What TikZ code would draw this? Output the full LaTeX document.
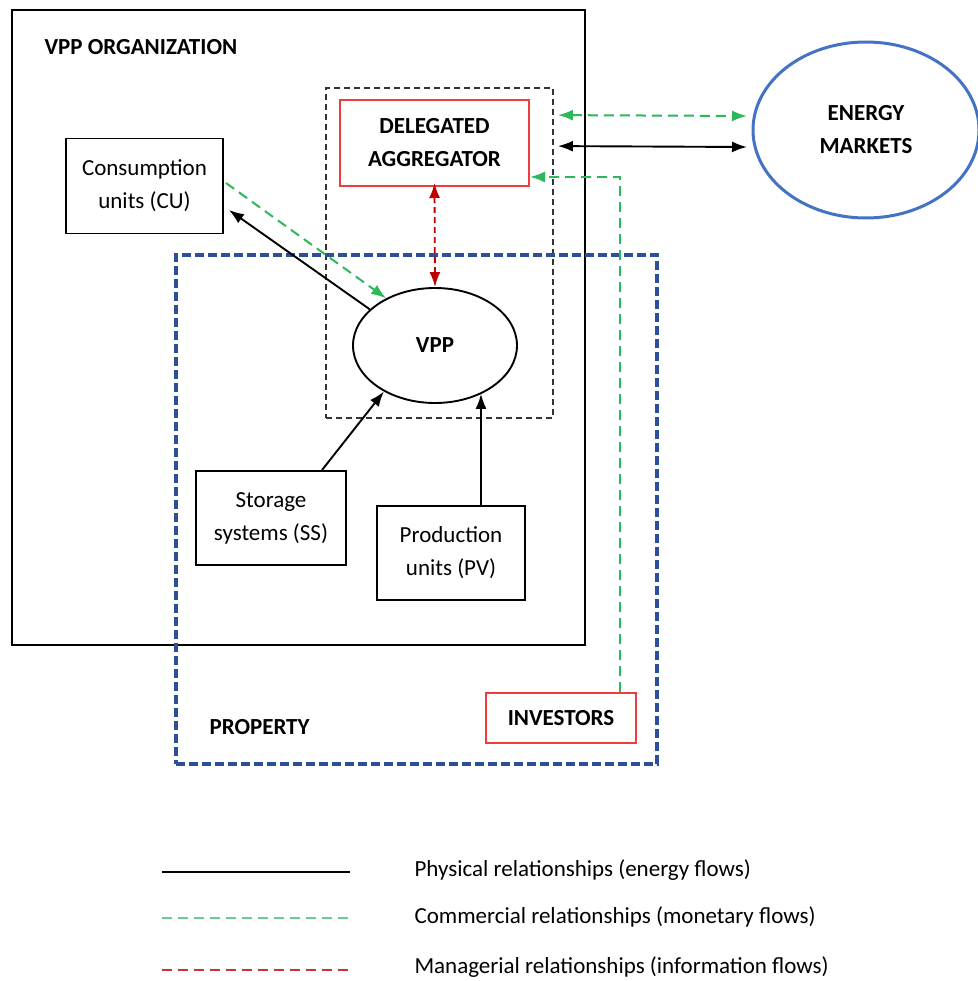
\documentclass[tikz,border=0pt]{standalone}
\usepackage{fontspec}
\setmainfont{Carlito}
\usetikzlibrary{arrows.meta,calc,shapes.geometric}
\definecolor{commgreen}{HTML}{2DB85A}
\definecolor{mgmtred}{HTML}{C00000}
\definecolor{boxred}{HTML}{F03C3C}
\definecolor{propblue}{HTML}{2E4E9A}
\definecolor{mktblue}{HTML}{4472C4}
\tikzset{
  every node/.style={font=\fontsize{23}{33}\selectfont, align=center},
  boldtext/.style={font=\fontsize{23}{33}\selectfont\bfseries},
  unit/.style={draw=black, line width=1.9pt, inner sep=0pt},
  redbox/.style={draw=boxred, line width=2pt, inner sep=0pt, boldtext},
  phys/.style={draw=black, line width=1.9pt},
  comm/.style={draw=commgreen, line width=2pt, dash pattern=on 10pt off 6pt},
  mgmt/.style={draw=mgmtred, line width=1.8pt, dash pattern=on 6pt off 4pt},
  tip/.style={-{Latex[length=15pt,width=11pt]}},
  dtip/.style={{Latex[length=15pt,width=11pt]}-{Latex[length=15pt,width=11pt]}},
}
\begin{document}
\begin{tikzpicture}[x=1pt,y=-1pt]
\useasboundingbox[fill=white] (0,0) rectangle (977,981);

% outer frames
\node[draw=black, line width=1.9pt, minimum width=573pt, minimum height=635pt] (org) at (298.5,327.5) {};
\node[anchor=west, boldtext] (orgl) at (41,47) {VPP ORGANIZATION};
\node[draw=black!80, line width=1.8pt, dash pattern=on 6pt off 4pt, minimum width=227pt, minimum height=330pt] (aggbox) at (439.5,253) {};
\node[draw=propblue, line width=3.3pt, dash pattern=on 9pt off 4pt, minimum width=481pt, minimum height=509pt] (prop) at (416.5,509.5) {};
\node[anchor=west, boldtext] (propl) at (206,727) {PROPERTY};

% actors
\node[redbox, minimum width=189pt, minimum height=86pt] (agg) at (434.5,143) {DELEGATED\\AGGREGATOR};
\node[ellipse, draw=mktblue, line width=3pt, inner sep=0pt, minimum width=226pt, minimum height=176pt, boldtext] (em) at (866,130) {ENERGY\\MARKETS};
\node[unit, minimum width=157pt, minimum height=95pt] (cu) at (144.5,186) {Consumption\\units (CU)};
\node[ellipse, draw=black, line width=1.9pt, inner sep=0pt, minimum width=164pt, minimum height=115pt, boldtext] (vpp) at (435,345.5) {VPP};
\node[unit, minimum width=150pt, minimum height=94pt] (ss) at (271,518) {Storage\\systems (SS)};
\node[unit, minimum width=148pt, minimum height=94pt] (pv) at (451,553) {Production\\units (PV)};
\node[redbox, minimum width=150pt, minimum height=50pt] (inv) at (561,718) {INVESTORS};

% aggregator <-> markets
\coordinate (mk1) at (747,116);
\coordinate (mk2) at (747,147);
\draw[comm, dtip] ([shift={(4,28)}]aggbox.north east) -- (mk1);
\draw[phys, dtip] ([shift={(4,59)}]aggbox.north east) -- (mk2);

% investors -> aggregator
\coordinate (invc) at (620,177);
\draw[comm, tip] ([xshift=59pt]inv.north) -- (invc) -- (agg.east |- invc);

% aggregator <-> VPP
\draw[mgmt, dtip] ([yshift=4pt]agg.south) -- (vpp.north);

% VPP <-> consumption units
\draw[phys, tip] (vpp.151) -- ([shift={(5,24)}]cu.east);
\draw[comm, tip] ([shift={(2,-3)}]cu.east) -- (vpp.136);

% storage and production -> VPP
\draw[phys, tip] ([xshift=51pt]ss.north) -- (vpp.222);
\coordinate (pvtop) at ([xshift=30pt]pv.north);
\draw[phys, tip] (pvtop) -- (pvtop |- vpp.314);

% legend
\node[anchor=west] (lg1) at (411,870) {Physical relationships (energy flows)};
\node[anchor=west] (lg2) at (411,917) {Commercial relationships (monetary flows)};
\node[anchor=west] (lg3) at (411,967) {Managerial relationships (information flows)};
\coordinate (ls1) at (162,872); \coordinate (le1) at (350,872);
\coordinate (ls2) at (162,918); \coordinate (le2) at (350,918);
\coordinate (ls3) at (162,970); \coordinate (le3) at (350,970);
\draw[phys] (ls1) -- (le1);
\draw[comm, draw=commgreen!70] (ls2) -- (le2);
\draw[mgmt, draw=boxred!85!black, dash pattern=on 10pt off 6pt] (ls3) -- (le3);
\end{tikzpicture}
\end{document}
